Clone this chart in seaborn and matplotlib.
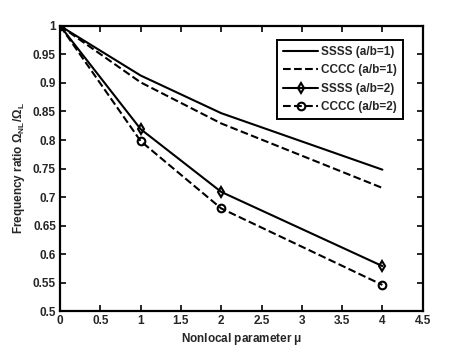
import pandas as pd
import matplotlib
matplotlib.use("Agg")
import matplotlib.pyplot as plt
import seaborn as sns

# nonlocal parameter values
mu = [0, 1, 2, 4]

# frequency ratios
ssss_ab1 = [1.0, 0.913, 0.847, 0.748]
cccc_ab1 = [1.0, 0.901, 0.829, 0.716]
ssss_ab2 = [1.0, 0.819, 0.709, 0.579]
cccc_ab2 = [1.0, 0.798, 0.680, 0.546]

labels = ["SSSS (a/b=1)", "CCCC (a/b=1)", "SSSS (a/b=2)", "CCCC (a/b=2)"]

sns.set_style("ticks")
plt.rcParams["font.family"] = ["Liberation Sans", "DejaVu Sans"]
plt.rcParams["font.weight"] = "bold"
plt.rcParams["mathtext.fontset"] = "custom"
plt.rcParams["mathtext.rm"] = "Liberation Sans"
plt.rcParams["mathtext.it"] = "Liberation Sans"

fig = plt.figure(figsize=(4.66, 3.5), dpi=100)
ax = fig.add_axes([0.129, 0.111, 0.778, 0.815])

series = [ssss_ab1, cccc_ab1, ssss_ab2, cccc_ab2]
styles = [
    dict(linestyle="-", marker=None),
    dict(linestyle="--", marker=None),
    dict(linestyle="-", marker="d"),
    dict(linestyle="--", marker="o"),
]
for vals, lab, st in zip(series, labels, styles):
    df = pd.DataFrame({"mu": mu, "ratio": vals})
    kw = dict(color="black", linewidth=1.5, label=lab, linestyle=st["linestyle"])
    if st["linestyle"] == "--":
        kw["dashes"] = (4, 2.6)
    if st["marker"]:
        kw.update(marker=st["marker"], markersize=5.5, markerfacecolor="none",
                  markeredgecolor="black", markeredgewidth=1.5)
    sns.lineplot(data=df, x="mu", y="ratio", ax=ax, **kw)

ax.set_xlim(0, 4.5)
ax.set_ylim(0.5, 1.0)
ax.set_xticks([0, 0.5, 1, 1.5, 2, 2.5, 3, 3.5, 4, 4.5])
ax.set_xticklabels(["0", "0.5", "1", "1.5", "2", "2.5", "3", "3.5", "4", "4.5"])
ax.set_yticks([0.5, 0.55, 0.6, 0.65, 0.7, 0.75, 0.8, 0.85, 0.9, 0.95, 1.0])
ax.set_yticklabels(["0.5", "0.55", "0.6", "0.65", "0.7", "0.75", "0.8", "0.85",
                    "0.9", "0.95", "1"])
ax.tick_params(direction="in", top=True, right=True, length=4, width=1.4,
               labelsize=8.5, pad=3)
for s in ax.spines.values():
    s.set_visible(True)
    s.set_linewidth(1.6)
    s.set_color("black")

ax.set_xlabel(r"Nonlocal parameter $\mu$", fontsize=8.5, fontweight="bold", labelpad=3)
ax.set_ylabel(r"Frequency ratio $\Omega_{NL}/\Omega_{L}$", fontsize=8.5,
              fontweight="bold", labelpad=4)

leg = ax.legend(loc="upper right", bbox_to_anchor=(0.946, 0.951), borderaxespad=0,
                fontsize=8.5, frameon=True, fancybox=False,
                handlelength=3.0, handletextpad=0.25, borderpad=0.5,
                labelspacing=0.55)
leg.get_frame().set_edgecolor("black")
leg.get_frame().set_linewidth(1.4)
leg.get_frame().set_alpha(1)

fig.savefig("out.png", dpi=100)
